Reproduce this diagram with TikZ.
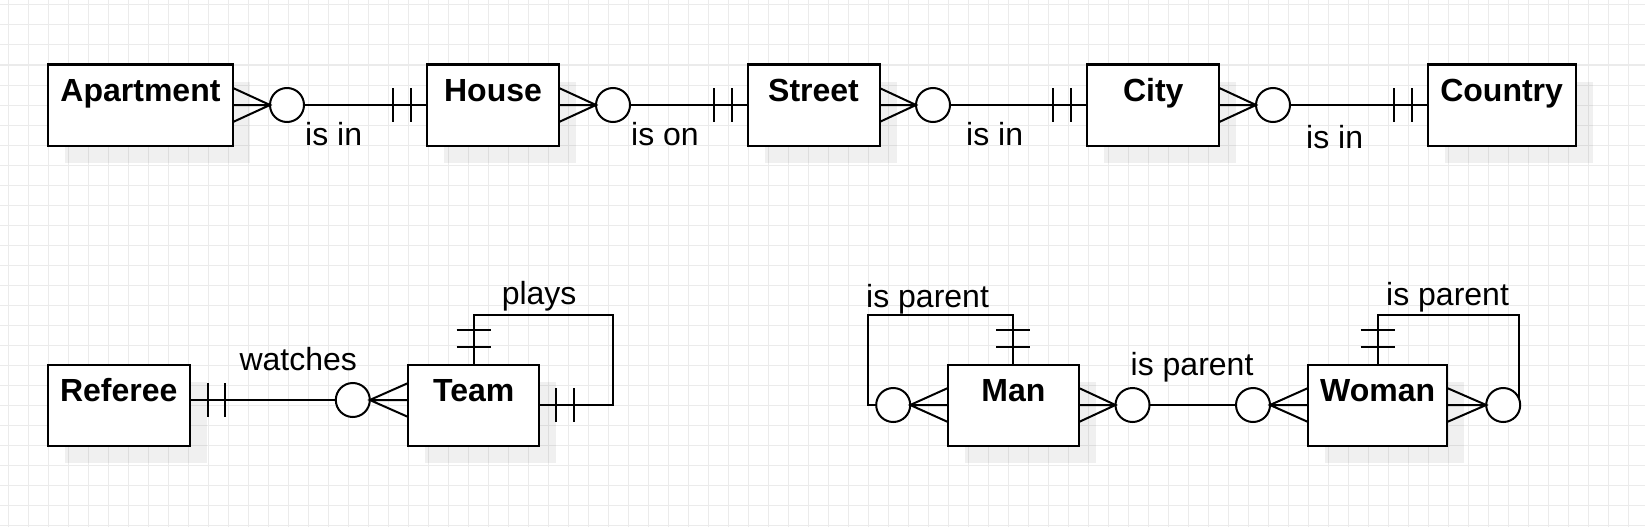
\documentclass[tikz,border=0pt]{standalone}
\usepackage{fontspec}
\setmainfont{Liberation Sans}
\usetikzlibrary{positioning, calc, shadows}

\definecolor{gridline}{HTML}{EBEBEB}

\begin{document}
\begin{tikzpicture}[x=1pt, y=-1pt,
  entity/.style={draw, line width=2pt, fill=white, inner sep=0pt, outer sep=0pt,
    minimum height=81pt, text height=37pt, text depth=44pt,
    font=\fontsize{32}{38}\selectfont\bfseries,
    drop shadow={shadow xshift=17pt, shadow yshift=-17pt, fill=black, opacity=0.06}},
  optional/.style={circle, draw, line width=2pt, fill=white, inner sep=0pt, outer sep=0pt, minimum size=34pt},
  rel/.style={line width=2pt},
  lbl/.style={anchor=base west, inner sep=0pt, font=\fontsize{32}{38}\selectfont}]
\useasboundingbox (0,0) rectangle (1645,527);

% Background grid
\draw[gridline, line width=1pt, shift={(8,5)}, step=20pt] (-8,522) grid (1637,-5);

% Top row: entities
\node[entity, minimum width=185pt] (apartment) at (140.5,105) {Apartment};
\node[entity, minimum width=132pt] (house) at (493,105) {House};
\node[entity, minimum width=132pt] (street) at (813.5,105) {Street};
\node[entity, minimum width=132pt] (city) at (1153.3,105) {City};
\node[entity, minimum width=148pt] (country) at (1501.6,105) {Country};

% Top row: zero-or-many circles
\node[optional] (aptC) at (287,105) {};
\node[optional] (houseC) at (613,105) {};
\node[optional] (streetC) at (933,105) {};
\node[optional] (cityC) at (1273,105) {};

% Apartment -- House
\draw[rel] ($(apartment.east)+(0,-17)$) -- (aptC.west) -- ($(apartment.east)+(0,17)$)
  (apartment.east) -- (aptC.west);
\draw[rel] (aptC.east) -- (house.west);
\draw[rel] ($(house.west)+(-34,-17)$) -- ($(house.west)+(-34,17)$)
  ($(house.west)+(-16,-17)$) -- ($(house.west)+(-16,17)$);
\node[lbl] (isinA) at (305,145) {is in};

% House -- Street
\draw[rel] ($(house.east)+(0,-17)$) -- (houseC.west) -- ($(house.east)+(0,17)$)
  (house.east) -- (houseC.west);
\draw[rel] (houseC.east) -- (street.west);
\draw[rel] ($(street.west)+(-34,-17)$) -- ($(street.west)+(-34,17)$)
  ($(street.west)+(-16,-17)$) -- ($(street.west)+(-16,17)$);
\node[lbl] (ison) at (631,145) {is on};

% Street -- City
\draw[rel] ($(street.east)+(0,-17)$) -- (streetC.west) -- ($(street.east)+(0,17)$)
  (street.east) -- (streetC.west);
\draw[rel] (streetC.east) -- (city.west);
\draw[rel] ($(city.west)+(-34,-17)$) -- ($(city.west)+(-34,17)$)
  ($(city.west)+(-16,-17)$) -- ($(city.west)+(-16,17)$);
\node[lbl] (isinB) at (966,145) {is in};

% City -- Country
\draw[rel] ($(city.east)+(0,-17)$) -- (cityC.west) -- ($(city.east)+(0,17)$)
  (city.east) -- (cityC.west);
\draw[rel] (cityC.east) -- (country.west);
\draw[rel] ($(country.west)+(-34,-17)$) -- ($(country.west)+(-34,17)$)
  ($(country.west)+(-16,-17)$) -- ($(country.west)+(-16,17)$);
\node[lbl] (isinC) at (1306,148) {is in};

% Bottom left: Referee and Team
\node[entity, minimum width=142pt] (referee) at (118.8,405) {Referee};
\node[entity, minimum width=131pt] (team) at (473.7,405) {Team};
\node[optional] (teamC) at (352.8,400) {};

\draw[rel] (referee.east |- teamC) -- (teamC.west);
\draw[rel] ($(referee.east |- teamC)+(18,-17)$) -- ($(referee.east |- teamC)+(18,17)$)
  ($(referee.east |- teamC)+(35,-17)$) -- ($(referee.east |- teamC)+(35,17)$);
\draw[rel] (teamC.east) -- (team.west |- teamC)
  ($(team.west |- teamC)+(0,-17)$) -- (teamC.east) -- ($(team.west |- teamC)+(0,17)$);
\node[lbl] (watches) at (239.3,370) {watches};

% Team plays Team
\draw[rel] (team.north) -- ++(0,-50) -| ($(team.east)+(74,0)$) -- (team.east);
\draw[rel] ($(team.north)+(-17,-18)$) -- ($(team.north)+(17,-18)$)
  ($(team.north)+(-17,-35)$) -- ($(team.north)+(17,-35)$);
\draw[rel] ($(team.east)+(17,-17)$) -- ($(team.east)+(17,17)$)
  ($(team.east)+(35,-17)$) -- ($(team.east)+(35,17)$);
\node[lbl] (plays) at (501.6,304) {plays};

% Bottom right: Man and Woman
\node[entity, minimum width=131pt] (man) at (1013.4,405) {Man};
\node[entity, minimum width=139pt] (woman) at (1377.6,405) {Woman};
\node[optional] (manL) at (893.2,405) {};
\node[optional] (manR) at (1132.5,405) {};
\node[optional] (womanL) at (1253,405) {};
\node[optional] (womanR) at (1503.2,405) {};

% Man is parent of Man
\draw[rel] ($(man.west)+(0,-17)$) -- (manL.east) -- ($(man.west)+(0,17)$)
  (man.west) -- (manL.east);
\draw[rel] (manL.west) -- ++(-8.5,0) -- ++(0,-90) -| (man.north);
\draw[rel] ($(man.north)+(-17,-18)$) -- ($(man.north)+(17,-18)$)
  ($(man.north)+(-17,-35)$) -- ($(man.north)+(17,-35)$);
\node[lbl] (parentM) at (866,307.7) {is parent};

% Man -- Woman
\draw[rel] ($(man.east)+(0,-17)$) -- (manR.west) -- ($(man.east)+(0,17)$)
  (man.east) -- (manR.west);
\draw[rel] (manR.east) -- (womanL.west);
\draw[rel] ($(woman.west)+(0,-17)$) -- (womanL.east) -- ($(woman.west)+(0,17)$)
  (woman.west) -- (womanL.east);
\node[lbl] (parentMW) at (1130.5,375) {is parent};

% Woman is parent of Woman
\draw[rel] ($(woman.east)+(0,-17)$) -- (womanR.west) -- ($(woman.east)+(0,17)$)
  (woman.east) -- (womanR.west);
\draw[rel] (womanR.20) -- ++(0,-84.2) -| (woman.north);
\draw[rel] ($(woman.north)+(-17,-18)$) -- ($(woman.north)+(17,-18)$)
  ($(woman.north)+(-17,-35)$) -- ($(woman.north)+(17,-35)$);
\node[lbl] (parentW) at (1386,305) {is parent};
\end{tikzpicture}
\end{document}
